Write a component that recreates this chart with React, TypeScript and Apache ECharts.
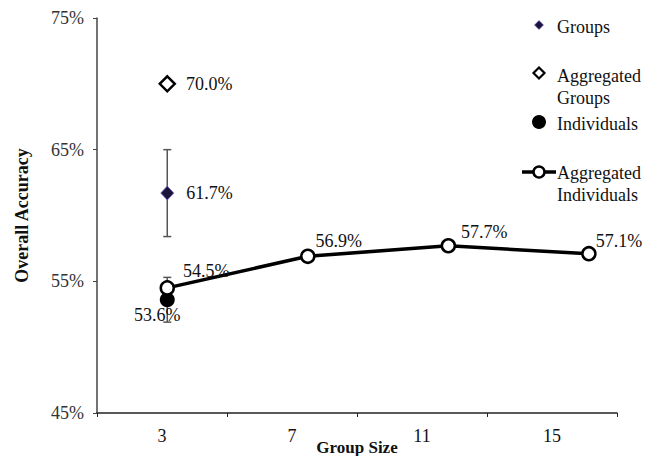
import React, { useEffect, useRef } from "react";
import * as echarts from "echarts";

const groupSizes = ["3", "7", "11", "15"];
const yTicks = [45, 55, 65, 75];
const groupsPoint = [3, 61.7];
const groupsError = [58.4, 65.0];
const aggGroupsPoint = [3, 70.0];
const individualsPoint = [3, 53.6];
const individualsError = [51.9, 55.3];
const aggIndividualsX = [3, 7, 11, 15];
const aggIndividualsY = [54.5, 56.9, 57.7, 57.1];
const aggIndividualsLabelOffsets = [
  [3, -17],
  [-5, -15],
  [0, -14],
  [-6, -13],
];

const FONT = "Liberation Serif";
const TXT = "#111111";

export default function App() {
  const ref = useRef<HTMLDivElement>(null);
  useEffect(() => {
    if (!ref.current) return;
    const chart = echarts.init(ref.current, undefined, { renderer: "svg" });
    const fmt = (v: number) => v.toFixed(1) + "%";
    const labelBase = { show: true, color: TXT, fontFamily: FONT, fontSize: 18 };

    const legendText = (x: number, y: number, t: string) => ({
      type: "text",
      x,
      y,
      style: { text: t, fill: TXT, font: `18px "${FONT}"`, textVerticalAlign: "middle", textAlign: "left" },
    });
    const diamond = (cx: number, cy: number, r: number) => [
      [cx, cy - r],
      [cx + r, cy],
      [cx, cy + r],
      [cx - r, cy],
    ];

    chart.setOption({
      animation: false,
      backgroundColor: "#ffffff",
      grid: { left: 97, right: 50, top: 18, bottom: 43, containLabel: false, outerBoundsMode: "none" },
      xAxis: [
        {
          type: "category",
          data: groupSizes,
          boundaryGap: true,
          name: "Group Size",
          nameLocation: "middle",
          nameGap: 26,
          nameMoveOverlap: false,
          nameTextStyle: { fontFamily: FONT, fontSize: 17, fontWeight: "bold", color: TXT },
          axisLine: { lineStyle: { color: "#222", width: 1.5 } },
          axisTick: { show: true, length: 4, lineStyle: { color: "#222" } },
          axisLabel: { margin: 14, fontFamily: FONT, fontSize: 18, color: TXT },
        },
        { type: "value", min: 1, max: 15.8, show: false },
      ],
      yAxis: {
        type: "value",
        min: 45,
        max: 75,
        name: "Overall Accuracy",
        nameLocation: "middle",
        nameGap: 66,
        nameMoveOverlap: false,
        nameTextStyle: { fontFamily: FONT, fontSize: 18, fontWeight: "bold", color: TXT },
        axisLine: { show: true, lineStyle: { color: "#444", width: 1.5 } },
        axisTick: { show: true, length: 4, customValues: yTicks, lineStyle: { color: "#444" } },
        axisLabel: {
          margin: 13,
          customValues: yTicks,
          formatter: (v: number) => v + "%",
          fontFamily: FONT,
          fontSize: 18,
          color: "#333",
        },
        splitLine: { show: false },
      },
      series: [
        {
          type: "custom",
          xAxisIndex: 1,
          z: 1,
          data: [
            [groupsPoint[0], groupsError[0], groupsError[1]],
            [individualsPoint[0], individualsError[0], individualsError[1]],
          ],
          encode: { x: 0, y: [1, 2] },
          renderItem: (params: any, api: any) => {
            const x = api.value(0);
            const lo = api.coord([x, api.value(1)]);
            const hi = api.coord([x, api.value(2)]);
            const w = 4;
            const st = { stroke: "#555", lineWidth: 1.5 };
            return {
              type: "group",
              children: [
                { type: "line", shape: { x1: lo[0], y1: lo[1], x2: hi[0], y2: hi[1] }, style: st },
                { type: "line", shape: { x1: lo[0] - w, y1: lo[1], x2: lo[0] + w, y2: lo[1] }, style: st },
                { type: "line", shape: { x1: hi[0] - w, y1: hi[1], x2: hi[0] + w, y2: hi[1] }, style: st },
              ],
            };
          },
        },
        {
          name: "Individuals",
          type: "scatter",
          xAxisIndex: 1,
          z: 3,
          symbol: "circle",
          symbolSize: 15,
          itemStyle: { color: "#000", opacity: 1 },
          data: [individualsPoint],
          label: { ...labelBase, position: "inside", offset: [-10, 15], formatter: (p: any) => fmt(p.value[1]) },
        },
        {
          name: "Aggregated Individuals",
          type: "line",
          xAxisIndex: 1,
          z: 4,
          symbol: "circle",
          symbolSize: 13,
          lineStyle: { color: "#000", width: 3.5 },
          itemStyle: { color: "#fff", borderColor: "#000", borderWidth: 2.5, opacity: 1 },
          data: aggIndividualsX.map((x, i) => ({
            value: [x, aggIndividualsY[i]],
            label: { ...labelBase, position: "right", distance: 5, offset: aggIndividualsLabelOffsets[i], formatter: (p: any) => fmt(p.value[1]) },
          })),
        },
        {
          name: "Groups",
          type: "scatter",
          xAxisIndex: 1,
          z: 3,
          symbol: "diamond",
          symbolSize: [13, 14],
          itemStyle: { color: "#1c1438", borderColor: "#6a5acd", borderWidth: 0.8, opacity: 1 },
          data: [groupsPoint],
          label: { ...labelBase, position: "right", distance: 12, formatter: (p: any) => fmt(p.value[1]) },
        },
        {
          name: "Aggregated Groups",
          type: "scatter",
          xAxisIndex: 1,
          z: 3,
          symbol: "diamond",
          symbolSize: [15, 15],
          itemStyle: { color: "#fff", borderColor: "#000", borderWidth: 2.5, opacity: 1 },
          data: [aggGroupsPoint],
          label: { ...labelBase, position: "right", distance: 10, formatter: (p: any) => fmt(p.value[1]) },
        },
      ],
      graphic: [
        { type: "polygon", shape: { points: diamond(539, 25, 4.5) }, style: { fill: "#1c1438", stroke: "#6a5acd", lineWidth: 0.6 } },
        legendText(557, 27, "Groups"),
        { type: "polygon", shape: { points: diamond(539, 73, 5.5) }, style: { fill: "#fff", stroke: "#000", lineWidth: 2.2 } },
        legendText(557, 76, "Aggregated"),
        legendText(557, 98, "Groups"),
        { type: "circle", shape: { cx: 539, cy: 122, r: 7 }, style: { fill: "#000" } },
        legendText(557, 124, "Individuals"),
        { type: "line", shape: { x1: 522, y1: 172, x2: 556, y2: 172 }, style: { stroke: "#000", lineWidth: 3.5 } },
        { type: "circle", shape: { cx: 539, cy: 172, r: 5.5 }, style: { fill: "#fff", stroke: "#000", lineWidth: 2.5 } },
        legendText(557, 173, "Aggregated"),
        legendText(557, 195, "Individuals"),
      ],
    });
    return () => chart.dispose();
  }, []);
  return <div ref={ref} style={{ position: "absolute", left: 0, top: 0, width: 667, height: 456 }} />;
}
